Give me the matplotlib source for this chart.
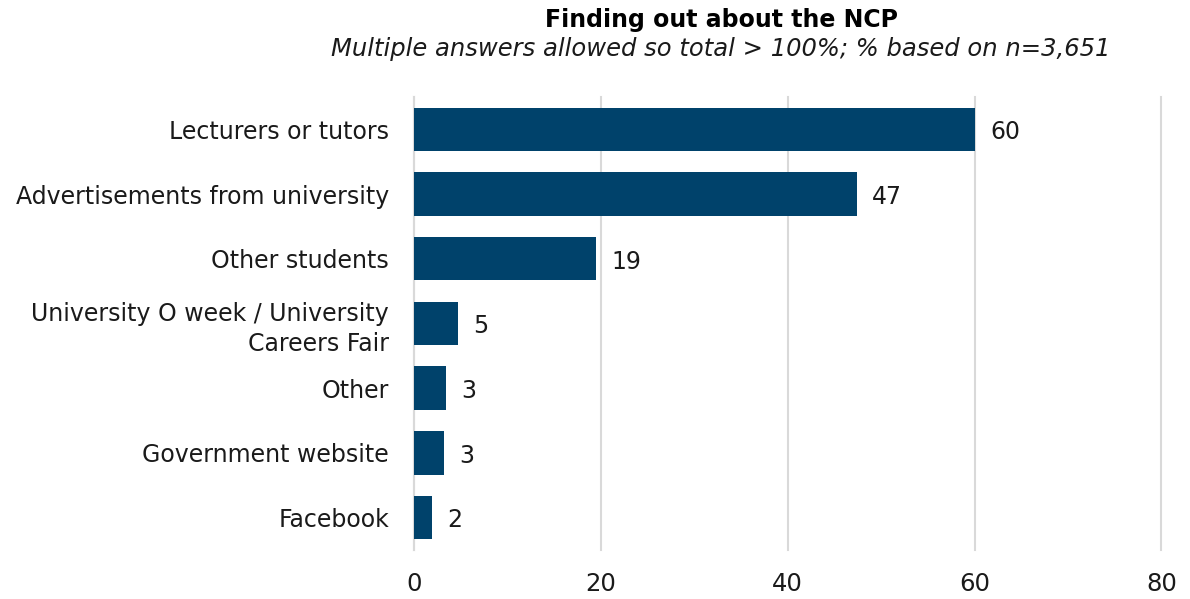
import matplotlib
matplotlib.use("Agg")
import matplotlib.pyplot as plt

# Data
categories = [
    "Lecturers or tutors",
    "Advertisements from university",
    "Other students",
    "University O week / University\nCareers Fair",
    "Other",
    "Government website",
    "Facebook",
]
values = [60.0, 47.4, 19.5, 4.7, 3.4, 3.2, 1.9]
value_labels = ["60", "47", "19", "5", "3", "3", "2"]
x_ticks = [0, 20, 40, 60, 80]

BAR_COLOR = "#00426b"
GRID_COLOR = "#d9d9d9"
TEXT_COLOR = "#1a1a1a"
FS = 17

plt.rcParams["font.family"] = ["DejaVu Sans"]

fig = plt.figure(figsize=(11.9, 5.99), dpi=100)
ax = fig.add_axes([0.348, 0.082, 0.628, 0.756])

pos = list(range(len(categories)))
ax.barh(pos, values, height=0.67, color=BAR_COLOR, zorder=3)

for p, v, lab in zip(pos, values, value_labels):
    ax.annotate(lab, (v, p), xytext=(11, -2), textcoords="offset points",
                va="center", ha="left", fontsize=FS, color=TEXT_COLOR)

ax.set_ylim(len(categories) - 0.5, -0.5)
ax.set_xlim(0, 80)
ax.set_xticks(x_ticks)
ax.set_xticklabels([str(t) for t in x_ticks], fontsize=17.5, color=TEXT_COLOR)
ax.set_yticks(pos)
ax.set_yticklabels(categories, fontsize=FS, color=TEXT_COLOR, linespacing=1.3)
ax.tick_params(length=0)
ax.tick_params(axis="x", pad=16)
ax.tick_params(axis="y", pad=18)

ax.grid(axis="x", color=GRID_COLOR, linewidth=1.5, zorder=0)
for line in ax.get_xgridlines():
    line.set_clip_on(False)
for side in ("top", "right", "bottom"):
    ax.spines[side].set_visible(False)
ax.spines["left"].set_color(GRID_COLOR)
ax.spines["left"].set_linewidth(1.5)

fig.text(0.606, 0.966, "Finding out about the NCP", ha="center", va="center",
         fontsize=FS, fontweight="bold", color="#000000")
fig.text(0.606, 0.918, "Multiple answers allowed so total > 100%; % based on n=3,651",
         ha="center", va="center", fontsize=17.5, style="italic", color=TEXT_COLOR)

fig.savefig("out.png", dpi=100)
